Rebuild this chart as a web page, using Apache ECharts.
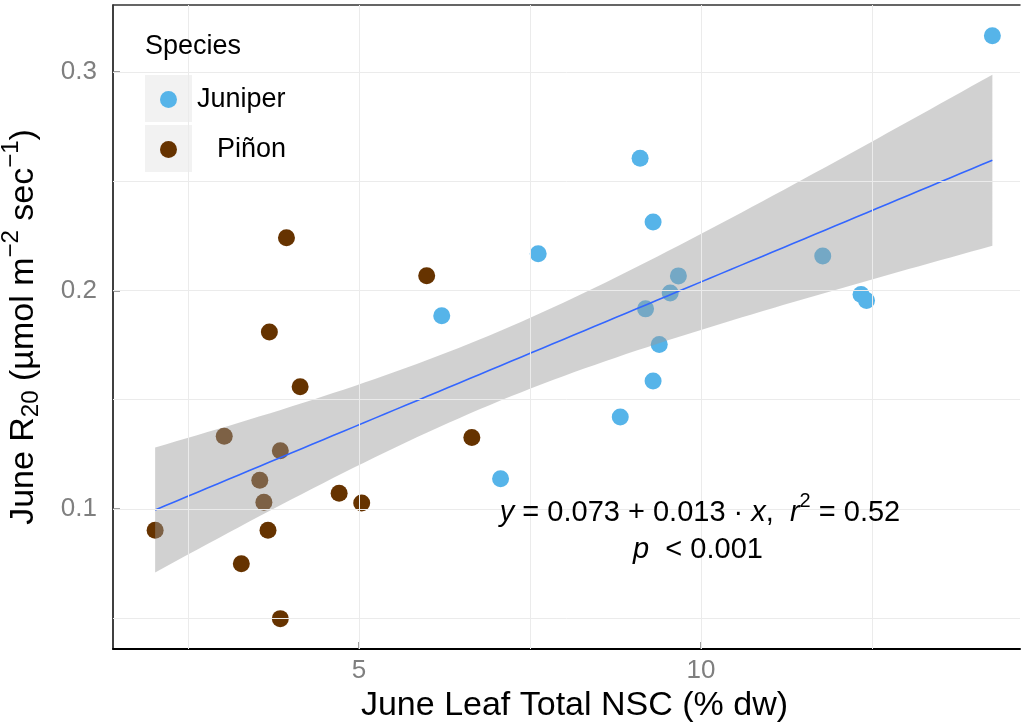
<!DOCTYPE html>
<html>
<head>
<meta charset="utf-8">
<script src="https://cdn.jsdelivr.net/npm/echarts@6/dist/echarts.min.js"></script>
<style>html,body{margin:0;padding:0;background:#fff}#c{width:1024px;height:725px}</style>
</head>
<body>
<div id="c"></div>
<script>
// ---- data ----
const juniperX = [14.26, 9.11, 9.30, 7.62, 11.78, 9.67, 9.55, 9.19, 12.34, 12.42, 6.21, 9.39, 9.30, 8.82, 7.07];
const juniperY = [0.3166, 0.2606, 0.2314, 0.2168, 0.2158, 0.2067, 0.1989, 0.1916, 0.1982, 0.1954, 0.1884, 0.1753, 0.1586, 0.1421, 0.1138];
const pinonX = [3.94, 5.99, 3.69, 4.14, 3.03, 6.65, 3.85, 3.55, 4.71, 3.61, 5.04, 2.02, 3.67, 3.28, 3.85];
const pinonY = [0.2242, 0.2068, 0.1810, 0.1560, 0.1333, 0.1327, 0.1266, 0.1132, 0.1072, 0.1031, 0.1027, 0.0903, 0.0903, 0.0749, 0.0498];
const xTickValues = [5, 10];
const yTickValues = [0.1, 0.2, 0.3];
const xGridValues = [2.5, 5, 7.5, 10, 12.5];
const yGridValues = [0.05, 0.1, 0.15, 0.2, 0.25, 0.3];
const speciesNames = ['Juniper', 'Piñon'];

// ---- regression + 95% CI (like geom_smooth(method = "lm")) ----
const allX = juniperX.concat(pinonX);
const allY = juniperY.concat(pinonY);
const n = allX.length;
const mx = allX.reduce((a, b) => a + b, 0) / n;
const my = allY.reduce((a, b) => a + b, 0) / n;
let sxx = 0, sxy = 0;
for (let i = 0; i < n; i++) { sxx += (allX[i] - mx) ** 2; sxy += (allX[i] - mx) * (allY[i] - my); }
const slope = sxy / sxx;
const intercept = my - slope * mx;
let sse = 0;
for (let i = 0; i < n; i++) { sse += (allY[i] - intercept - slope * allX[i]) ** 2; }
const s = Math.sqrt(sse / (n - 2));
const tcrit = 2.048; // t(0.975, 28)
const xMin = Math.min(...allX), xMax = Math.max(...allX);
const fitLine = [], upper = [], lower = [];
const steps = 80;
for (let k = 0; k <= steps; k++) {
  const x = xMin + (xMax - xMin) * k / steps;
  const yh = intercept + slope * x;
  const se = s * Math.sqrt(1 / n + (x - mx) ** 2 / sxx);
  fitLine.push([x, yh]);
  upper.push([x, yh + tcrit * se]);
  lower.push([x, yh - tcrit * se]);
}
const bandPoly = upper.concat(lower.slice().reverse());

const FONT = '"Liberation Sans", Arial, sans-serif';
const chart = echarts.init(document.getElementById('c'), null, { renderer: 'canvas' });

const gridLineSeries = {
  type: 'line', data: [], silent: true, z: 0,
  markLine: {
    silent: true, symbol: 'none', label: { show: false },
    lineStyle: { color: '#ebebeb', width: 1, type: 'solid' },
    data: xGridValues.map(v => ({ xAxis: v })).concat(yGridValues.map(v => ({ yAxis: v })))
  }
};

const annoRich = {
  i: { fontFamily: FONT, fontStyle: 'italic', fontSize: 29, color: '#000', padding: [7, 0, 7, 0] },
  n: { fontFamily: FONT, fontSize: 29, color: '#000', padding: [7, 0, 7, 0] },
  sup: { fontFamily: FONT, fontSize: 20, color: '#000', verticalAlign: 'top', lineHeight: 20 }
};

function legendFor(name, top, pad) {
  return {
    orient: 'vertical', left: 160, top: top, padding: 0, itemWidth: 17, itemHeight: 17,
    icon: 'circle', data: [name], selectedMode: false,
    textStyle: { color: '#000', fontSize: 27, fontFamily: FONT, padding: [0, 0, 0, pad] }
  };
}

chart.setOption({
  animation: false,
  backgroundColor: '#ffffff',
  textStyle: { fontFamily: FONT },
  grid: { left: 113, right: 4, top: 5, bottom: 76, containLabel: false, outerBoundsMode: 'none' },
  xAxis: [{
    type: 'value', min: 1.404, max: 14.664,
    splitLine: { show: false },
    axisLine: { show: true, onZero: false, lineStyle: { color: '#000', width: 2 } },
    axisTick: { show: true, inside: true, length: 7, customValues: xTickValues, lineStyle: { color: '#808080', width: 1.5 } },
    axisLabel: { customValues: xTickValues, color: '#7f7f7f', fontSize: 26, margin: 9, fontFamily: FONT },
    name: 'June Leaf Total NSC (% dw)', nameLocation: 'middle', nameGap: 53,
    nameTextStyle: { color: '#000', fontSize: 34, fontFamily: FONT, verticalAlign: 'middle', padding: [0, 0, 0, 16] }
  }, {
    type: 'value', position: 'top', min: 1.404, max: 14.664,
    splitLine: { show: false },
    axisLine: { show: true, onZero: false, lineStyle: { color: '#333', width: 1.5 } },
    axisTick: { show: false }, axisLabel: { show: false }
  }],
  yAxis: [{
    type: 'value', min: 0.0359, max: 0.3307,
    splitLine: { show: false },
    axisLine: { show: true, onZero: false, lineStyle: { color: '#000', width: 1.5 } },
    axisTick: { show: true, inside: true, length: 7, customValues: yTickValues, lineStyle: { color: '#808080', width: 1.5 } },
    axisLabel: { customValues: yTickValues, color: '#7f7f7f', fontSize: 26, margin: 16, fontFamily: FONT,
      formatter: v => v.toFixed(1) },
    name: '{m|June R}{sub|20}{m| (µmol m}{sup|−2}{m| sec}{sup|−1}{m|)}', nameLocation: 'middle', nameGap: 64,
    nameTextStyle: {
      color: '#000', fontSize: 34, fontFamily: FONT,
      rich: {
        m: { fontSize: 34, fontFamily: FONT, color: '#000', padding: [8, 0, 8, 0] },
        sub: { fontSize: 24, fontFamily: FONT, color: '#000', verticalAlign: 'bottom', lineHeight: 24, padding: [0, 0, 6, 0] },
        sup: { fontSize: 24, fontFamily: FONT, color: '#000', verticalAlign: 'top', lineHeight: 24 }
      }
    }
  }],
  legend: [legendFor(speciesNames[0], 86, 15), legendFor(speciesNames[1], 136, 35)],
  graphic: [
    { type: 'rect', left: 145, top: 75, z: 0, shape: { width: 47, height: 47 }, style: { fill: '#f2f2f2' } },
    { type: 'rect', left: 145, top: 125, z: 0, shape: { width: 47, height: 47 }, style: { fill: '#f2f2f2' } },
    { type: 'text', x: 145, y: 47, z: 10, style: { text: 'Species', font: '27px ' + FONT, fill: '#000', align: 'left', verticalAlign: 'middle' } },
    { type: 'text', x: 700, y: 513, z: 10,
      style: {
        text: '{i|y}{n| = 0.073 + 0.013 · }{i|x}{n|,  }{i|r}{sup|2}{n| = 0.52}',
        align: 'center', verticalAlign: 'middle', rich: annoRich
      } },
    { type: 'text', x: 698, y: 550, z: 10,
      style: {
        text: '{i|p}{n|  < 0.001}',
        align: 'center', verticalAlign: 'middle', rich: annoRich
      } }
  ],
  series: [
    gridLineSeries,
    {
      name: 'Juniper', type: 'scatter', symbolSize: 17, z: 2,
      itemStyle: { color: '#56B4E9', opacity: 1 },
      data: juniperX.map((x, i) => [x, juniperY[i]])
    },
    {
      name: 'Piñon', type: 'scatter', symbolSize: 17, z: 2,
      itemStyle: { color: '#663300', opacity: 1 },
      data: pinonX.map((x, i) => [x, pinonY[i]])
    },
    {
      type: 'custom', z: 3, silent: true,
      data: [0],
      renderItem: (params, api) => ({
        type: 'polygon',
        shape: { points: bandPoly.map(p => api.coord(p)) },
        style: { fill: 'rgba(153,153,153,0.45)' }
      })
    },
    {
      type: 'line', z: 4, silent: true, showSymbol: false, symbol: 'none',
      data: fitLine, lineStyle: { color: '#3366FF', width: 1.6 }
    }
  ]
});
</script>
</body>
</html>
